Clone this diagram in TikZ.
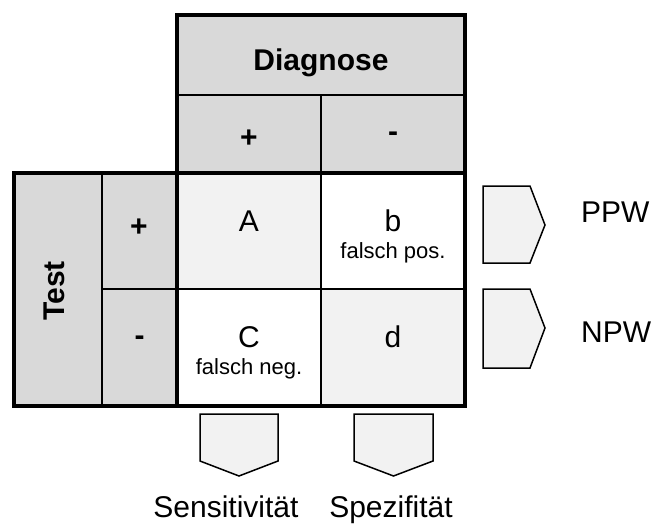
\documentclass[tikz,border=0pt]{standalone}
\usepackage{fontspec}
\setmainfont{Liberation Sans}
\definecolor{hdr}{HTML}{D9D9D9}
\definecolor{light}{HTML}{F2F2F2}
\begin{document}
\begin{tikzpicture}[x=1pt,y=-1pt,
  big/.style={font=\fontsize{30}{36}\selectfont, inner sep=0pt},
  bigb/.style={font=\fontsize{30}{36}\selectfont\bfseries, inner sep=0pt},
  small/.style={font=\fontsize{22}{26}\selectfont, inner sep=0pt},
  innerline/.style={line width=2.2pt},
  outerline/.style={line width=3.3pt},
  pent/.style={draw, fill=light, line width=1.5pt, line join=miter}]
\useasboundingbox (0,0) rectangle (651,525);
% fills
\fill[hdr] (177,15) rectangle (465,173);
\fill[hdr] (14,173) rectangle (177,406);
\fill[light] (177,173) rectangle (321,289);
\fill[light] (321,289) rectangle (465,406);
% inner lines
\draw[innerline] (177,95) -- (465,95);
\draw[innerline] (321,95) -- (321,406);
\draw[innerline] (102,173) -- (102,406);
\draw[innerline] (102,289) -- (465,289);
% outer lines
\draw[outerline] (177,15) rectangle (465,173);
\draw[outerline] (14,173) rectangle (465,406);
\draw[outerline] (177,173) -- (177,406);
% header texts
\node[bigb, anchor=base] (diag) at (321,70) {Diagnose};
\node[bigb, anchor=center] (dplus) at (249,138.5) {+};
\node[bigb, anchor=center] (dminus) at (393,136.5) {-};
\node[bigb, anchor=center, rotate=90] (test) at (54,291) {Test};
\node[bigb, anchor=center] (tplus) at (139,228) {+};
\node[bigb, anchor=center] (tminus) at (139.5,340.5) {-};
% cells
\node[big, anchor=base] (ca) at (249,231) {A};
\node[big, anchor=base] (cb) at (393,231) {b};
\node[small, anchor=base] (cbl) at (393,258) {falsch pos.};
\node[big, anchor=base] (cc) at (249,347) {C};
\node[small, anchor=base] (ccl) at (249,374) {falsch neg.};
\node[big, anchor=base] (cd) at (393,347) {d};
% pentagons right
\draw[pent] (483,186) -- (530,186) -- (545,225) -- (530,263) -- (483,263) -- cycle;
\draw[pent] (483,289) -- (530,289) -- (545,328) -- (530,368) -- (483,368) -- cycle;
% pentagons bottom
\draw[pent] (200,414) -- (278,414) -- (278,461) -- (239,476) -- (200,461) -- cycle;
\draw[pent] (354,414) -- (433,414) -- (433,461) -- (393.5,476) -- (354,461) -- cycle;
% labels
\node[big, anchor=base west] (ppw) at (581,222) {PPW};
\node[big, anchor=base west] (npw) at (581,342) {NPW};
\node[big, anchor=base] (sens) at (226,517) {Sensitivität};
\node[big, anchor=base] (spez) at (391,517) {Spezifität};
\end{tikzpicture}
\end{document}
